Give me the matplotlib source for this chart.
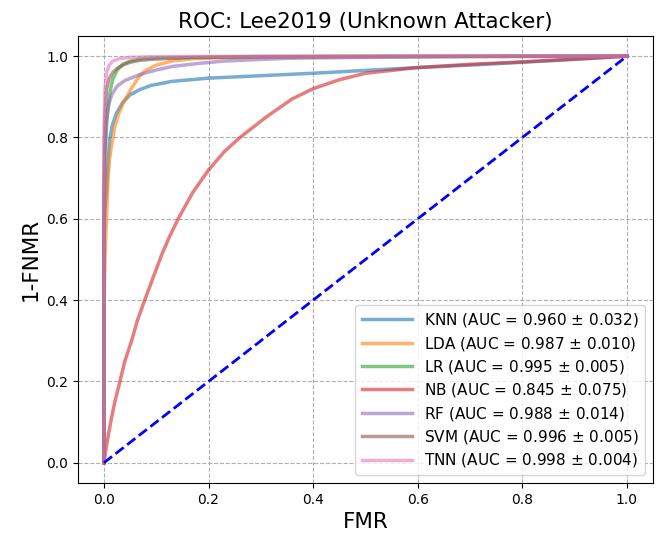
import numpy as np
import matplotlib.pyplot as plt

# ROC points per classifier (false match rate vs 1 - false non-match rate)
models = ['KNN', 'LDA', 'LR', 'NB', 'RF', 'SVM', 'TNN']
auc_mean = [0.960, 0.987, 0.995, 0.845, 0.988, 0.996, 0.998]
auc_std = [0.032, 0.010, 0.005, 0.075, 0.014, 0.005, 0.004]

fmr_knn = [0, 0, 0.002, 0.005, 0.008, 0.011, 0.016, 0.024, 0.036, 0.05, 0.069, 0.09, 0.13, 0.2, 0.3, 0.4, 0.5, 0.6, 0.7, 0.8, 0.9, 1.0]
tpr_knn = [0, 0.55, 0.62, 0.67, 0.74, 0.795, 0.83, 0.86, 0.886, 0.905, 0.918, 0.928, 0.938, 0.946, 0.952, 0.958, 0.965, 0.972, 0.978, 0.985, 0.992, 1.0]

fmr_lda = [0, 0, 0.002, 0.005, 0.008, 0.011, 0.016, 0.021, 0.028, 0.037, 0.05, 0.062, 0.069, 0.08, 0.1, 0.13, 0.17, 0.25, 0.4, 0.6, 1.0]
tpr_lda = [0, 0.35, 0.5, 0.6, 0.7, 0.75, 0.79, 0.827, 0.858, 0.885, 0.915, 0.94, 0.952, 0.965, 0.978, 0.988, 0.994, 0.997, 0.999, 1.0, 1.0]

fmr_lr = [0, 0, 0.002, 0.005, 0.008, 0.012, 0.017, 0.025, 0.036, 0.05, 0.069, 0.1, 0.2, 0.4, 1.0]
tpr_lr = [0, 0.6, 0.75, 0.83, 0.877, 0.915, 0.943, 0.965, 0.98, 0.988, 0.993, 0.996, 0.998, 0.999, 1.0]

fmr_nb = [0, 0.006, 0.013, 0.02, 0.0306, 0.04, 0.053, 0.064, 0.078, 0.094, 0.11, 0.125, 0.142, 0.17, 0.2, 0.23, 0.26, 0.311, 0.36, 0.4, 0.45, 0.5, 0.6, 0.7, 0.8, 0.9, 1.0]
tpr_nb = [0, 0.05, 0.1, 0.145, 0.2, 0.25, 0.3, 0.35, 0.4, 0.455, 0.51, 0.555, 0.6, 0.665, 0.72, 0.765, 0.8, 0.851, 0.895, 0.92, 0.942, 0.958, 0.972, 0.98, 0.986, 0.993, 1.0]

fmr_rf = [0, 0, 0.002, 0.005, 0.01, 0.015, 0.025, 0.04, 0.069, 0.1, 0.132, 0.18, 0.23, 0.3, 0.356, 0.5, 0.7, 1.0]
tpr_rf = [0, 0.6, 0.78, 0.845, 0.885, 0.905, 0.926, 0.94, 0.955, 0.966, 0.975, 0.982, 0.988, 0.992, 0.995, 0.997, 0.999, 1.0]

fmr_svm = [0, 0, 0.002, 0.005, 0.01, 0.017, 0.025, 0.036, 0.05, 0.07, 0.1, 0.15, 0.3, 1.0]
tpr_svm = [0, 0.7, 0.86, 0.918, 0.945, 0.96, 0.97, 0.978, 0.985, 0.99, 0.993, 0.996, 0.999, 1.0]

fmr_tnn = [0, 0, 0.002, 0.005, 0.01, 0.017, 0.03, 0.05, 0.1, 0.3, 1.0]
tpr_tnn = [0, 0.8, 0.92, 0.96, 0.978, 0.988, 0.994, 0.997, 0.999, 1.0, 1.0]

curves = [(fmr_knn, tpr_knn), (fmr_lda, tpr_lda), (fmr_lr, tpr_lr), (fmr_nb, tpr_nb),
          (fmr_rf, tpr_rf), (fmr_svm, tpr_svm), (fmr_tnn, tpr_tnn)]
colors = ['tab:blue', 'tab:orange', 'tab:green', 'tab:red', 'tab:purple', 'tab:brown', 'tab:pink']

fig = plt.figure(figsize=(6.59, 5.35), dpi=100)
ax = fig.add_axes([0.118, 0.097, 0.873, 0.836])

for name, (fx, fy), m, s, c in zip(models, curves, auc_mean, auc_std, colors):
    ax.plot(fx, fy, color=c, lw=2.5, alpha=0.6,
            label=f'{name} (AUC = {m:.3f} $\\pm$ {s:.3f})')

ax.plot([0, 1], [0, 1], 'b--', lw=2)

ax.set_xlim(-0.05, 1.05)
ax.set_ylim(-0.05, 1.05)
ax.grid(True, linestyle='--', color='#a8a8a8', alpha=0.9)
ax.set_xlabel('FMR', fontsize=15.5)
ax.set_ylabel('1-FNMR', fontsize=15.5)
ax.set_title('ROC: Lee2019 (Unknown Attacker)', fontsize=15.5)
ax.legend(loc='lower right', fontsize=11, handlelength=3.3, labelspacing=0.35)

fig.savefig('out.png', dpi=100)
